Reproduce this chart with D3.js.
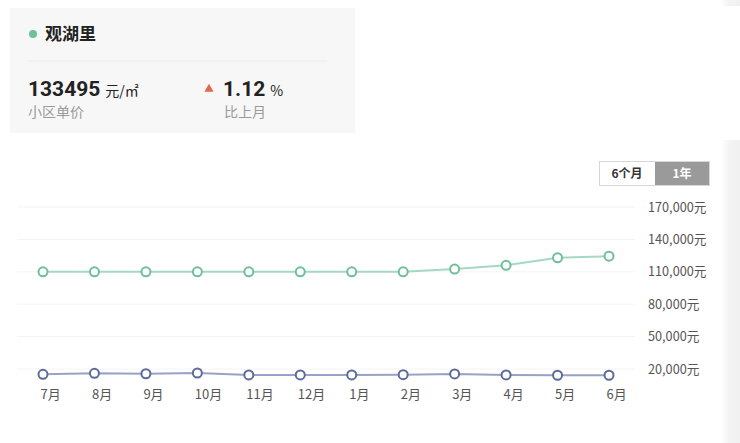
<!DOCTYPE html>
<html>
<head>
<meta charset="utf-8">
<script src="https://cdn.jsdelivr.net/npm/d3@7"></script>
<style>
  body { margin: 0; background: #fff; font-family: "Noto Sans CJK SC", "Noto Sans", sans-serif; }
  svg { display: block; }
</style>
</head>
<body>
<svg id="chart" width="740" height="443"></svg>
<script>
// datos
let months = ["7月", "8月", "9月", "10月", "11月", "12月", "1月", "2月", "3月", "4月", "5月", "6月"];
let communityPrice = [110000, 110000, 110000, 110000, 110000, 110000, 110000, 110000, 112500, 116000, 123000, 124500];
let areaPrice = [15100, 16000, 15600, 16300, 14500, 14500, 14500, 14700, 15400, 14500, 14200, 14200];
let yTicks = [20000, 50000, 80000, 110000, 140000, 170000];

let svg = d3.select("#chart");

// Tarjeta de cabecera
let card = svg.append("g");
card.append("rect")
    .attr("x", 10).attr("y", 8)
    .attr("width", 345).attr("height", 125)
    .attr("fill", "#f7f7f7");
card.append("circle").attr("cx", 33).attr("cy", 34).attr("r", 4).attr("fill", "#6cc29b");
card.append("text")
    .attr("x", 45).attr("y", 40)
    .attr("font-size", 17).attr("font-weight", "bold").attr("fill", "#222")
    .text("观湖里");
card.append("line")
    .attr("x1", 28).attr("x2", 327).attr("y1", 61).attr("y2", 61)
    .attr("stroke", "#ececec");

let priceText = card.append("text")
    .attr("x", 28).attr("y", 96).attr("fill", "#222");
priceText.append("tspan").attr("font-size", 21).attr("font-weight", "bold")
    .attr("font-family", "Roboto, 'Noto Sans', sans-serif").text("133495");
priceText.append("tspan").attr("font-size", 14).attr("dx", 5).text("元/㎡");
card.append("text")
    .attr("x", 28).attr("y", 117)
    .attr("font-size", 14).attr("fill", "#9a9a9a")
    .text("小区单价");

card.append("path")
    .attr("d", d3.symbol().type(d3.symbolTriangle).size(36)())
    .attr("transform", "translate(209,89)")
    .attr("fill", "#e0684b");
let pctText = card.append("text")
    .attr("x", 223).attr("y", 96).attr("fill", "#222");
pctText.append("tspan").attr("font-size", 21).attr("font-weight", "bold")
    .attr("font-family", "Roboto, 'Noto Sans', sans-serif").text("1.12");
pctText.append("tspan").attr("font-size", 14).attr("dx", 5).text("%");
card.append("text")
    .attr("x", 224).attr("y", 117)
    .attr("font-size", 14).attr("fill", "#9a9a9a")
    .text("比上月");

// Borde gris a la derecha
let grad = svg.append("defs").append("linearGradient").attr("id", "edge")
    .attr("x1", "0").attr("x2", "1").attr("y1", "0").attr("y2", "0");
grad.append("stop").attr("offset", "0").attr("stop-color", "#ffffff");
grad.append("stop").attr("offset", "0.4").attr("stop-color", "#f4f4f4");
grad.append("stop").attr("offset", "1").attr("stop-color", "#f0f0f0");
svg.append("rect").attr("x", 721).attr("y", 140).attr("width", 19).attr("height", 303).attr("fill", "url(#edge)");
svg.append("rect").attr("x", 721).attr("y", 0).attr("width", 19).attr("height", 6).attr("fill", "url(#edge)");

// Botones
let btn = svg.append("g");
btn.append("rect").attr("x", 599.5).attr("y", 161.5).attr("width", 110).attr("height", 24)
    .attr("fill", "#fff").attr("stroke", "#d6d6d6");
btn.append("rect").attr("x", 655).attr("y", 162).attr("width", 54).attr("height", 23).attr("fill", "#9a9a9a");
btn.append("text").attr("x", 627).attr("y", 178).attr("text-anchor", "middle")
    .attr("font-size", 12).attr("font-weight", "bold").attr("fill", "#333").text("6个月");
btn.append("text").attr("x", 682).attr("y", 178).attr("text-anchor", "middle")
    .attr("font-size", 12).attr("font-weight", "bold").attr("fill", "#fff").text("1年");

// Escalas
let x = d3.scalePoint()
    .domain(months)
    .range([43, 609]);

let y = d3.scaleLinear()
    .domain([20000, 170000])
    .range([369, 207]);

// Rejilla
let grid = svg.append("g");
grid.selectAll("line")
    .data(yTicks)
    .enter()
    .append("line")
    .attr("x1", 17).attr("x2", 635)
    .attr("y1", d => y(d)).attr("y2", d => y(d))
    .attr("stroke", "#f4f4f4");

// Eje Y a la derecha
let yAxis = svg.append("g")
    .attr("transform", "translate(648,0)")
    .call(d3.axisRight(y).tickValues(yTicks).tickSize(0).tickPadding(0)
        .tickFormat(d => d3.format(",")(d) + "元"));
yAxis.select(".domain").remove();
yAxis.selectAll("text").attr("font-size", 12.7).attr("fill", "#555")
    .attr("font-family", "'Noto Sans CJK SC', sans-serif");

// Eje X
let xAxis = svg.append("g")
    .attr("transform", "translate(0,390)")
    .call(d3.axisBottom(x).tickSize(0).tickPadding(0));
xAxis.select(".domain").remove();
xAxis.selectAll("text")
    .attr("text-anchor", "start")
    .attr("dx", "-3")
    .attr("font-size", 13).attr("fill", "#555")
    .attr("font-family", "'Noto Sans CJK SC', sans-serif");

// Series
function dibujarserie(values, lineColor, dotColor) {
    let datos = values.map((v, i) => [months[i], v]);
    svg.append("path")
        .datum(datos)
        .attr("fill", "none")
        .attr("stroke", lineColor)
        .attr("stroke-width", 2)
        .attr("d", d3.line().x(d => x(d[0])).y(d => y(d[1])));
    svg.append("g")
        .selectAll("circle")
        .data(datos)
        .enter()
        .append("circle")
        .attr("cx", d => x(d[0]))
        .attr("cy", d => y(d[1]))
        .attr("r", 4.5)
        .attr("fill", "#fff")
        .attr("stroke", dotColor)
        .attr("stroke-width", 2);
}

dibujarserie(communityPrice, "#a5d8c0", "#6fbf99");
dibujarserie(areaPrice, "#98a2c8", "#5d6b9b");
</script>
</body>
</html>
